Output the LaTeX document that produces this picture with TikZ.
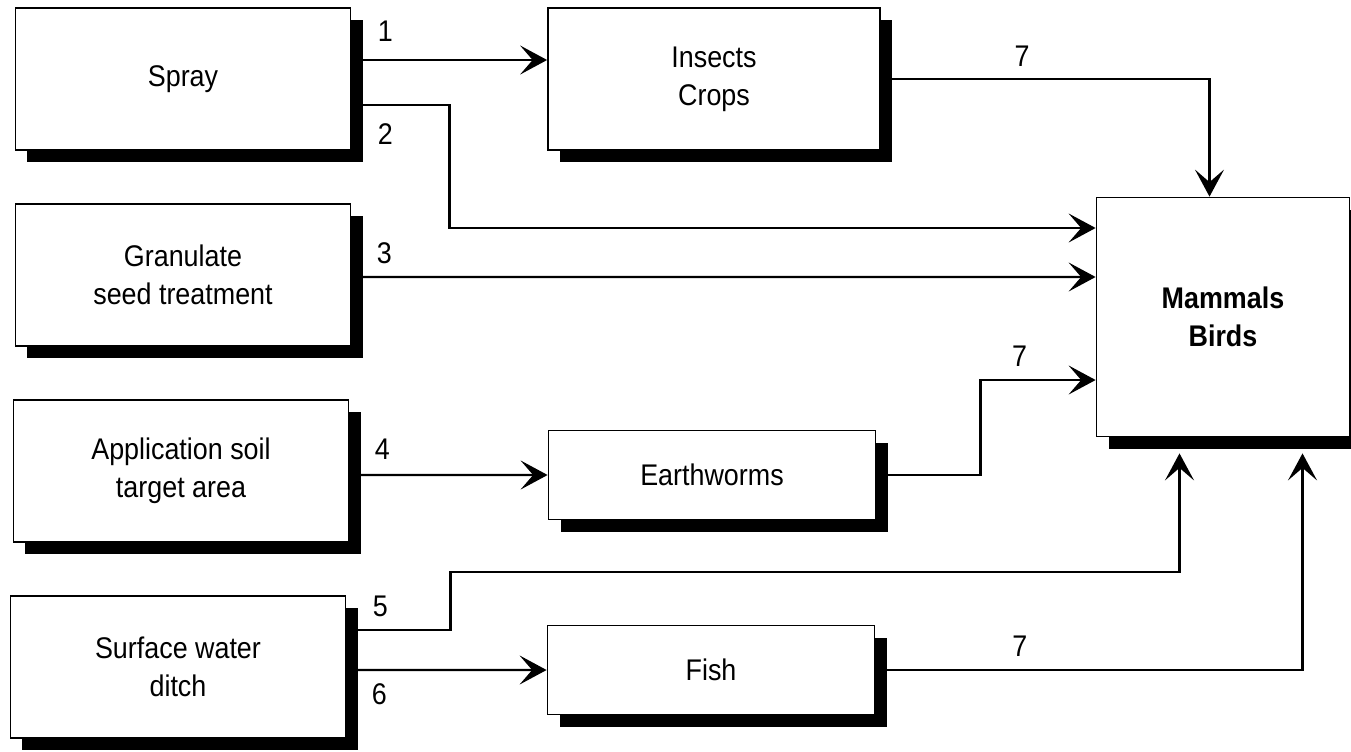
\documentclass[tikz,border=0pt]{standalone}
\usepackage{fontspec}
\setmainfont{Liberation Sans}[FakeStretch=0.9]
\usetikzlibrary{arrows.meta,shadows,positioning}

\tikzset{
  box/.style={draw=black, line width=1pt, fill=white, align=center,
    minimum width=67mm, minimum height=28.4mm,
    font=\fontsize{17}{21.6}\selectfont,
    drop shadow={shadow xshift=2.4mm, shadow yshift=-2.4mm, fill=black, opacity=1}},
  smallbox/.style={box, minimum width=65.4mm, minimum height=17.8mm},
  link/.style={-{Stealth[length=5.4mm,width=5.8mm,inset=2.5mm]}, line width=1.3pt},
  num/.style={font=\fontsize{17}{20}\selectfont, inner sep=2pt}
}

\begin{document}
\begin{tikzpicture}[x=0.2mm, y=-0.2mm]
    \useasboundingbox (0,0) rectangle (1351,751);
    \fill[white] (0,0) rectangle (1351,751);

    % sources
    \node (spray)       [box] at (183,79)  {Spray};
    \node (granulate)   [box] at (183,275) {Granulate\\seed treatment};
    \node (application) [box] at (181,471) {Application soil\\target area};
    \node (surface)     [box] at (178,667) {Surface water\\ditch};

    % intermediate
    \node (insects)    [box, minimum width=66.4mm] at (714,79) {Insects\\Crops};
    \node (earthworms) [smallbox] at (712,475) {Earthworms};
    \node (fish)       [smallbox] at (711,670) {Fish};

    % target
    \node (mammals) [box, minimum width=50.6mm, minimum height=47.8mm,
                     font=\fontsize{17}{21.6}\selectfont\bfseries] at (1223,317) {Mammals\\Birds};

    \draw [link] ([yshift=3.8mm]spray.east)
        -- node (l1) [num, pos=0, above, xshift=6.8mm, yshift=2.7mm] {1} ([yshift=3.8mm]insects.west);
    \draw [link] ([yshift=-5.2mm]spray.east)
        -- node (l2) [num, pos=0, below, xshift=6.8mm, yshift=-2.7mm] {2} ++(98,0)
        |- ([yshift=17.8mm]mammals.west);
    \draw [link] ([yshift=-0.4mm]granulate.east)
        -- node (l3) [num, pos=0, above, xshift=6.6mm, yshift=1.7mm] {3} ([yshift=8mm]mammals.west);
    \draw [link] ([yshift=-0.8mm]application.east)
        -- node (l4) [num, pos=0, above, xshift=6.6mm, yshift=2.1mm] {4} (earthworms.west);
    \draw [link] ([yshift=7.4mm]surface.east)
        -- node (l5) [num, pos=0, above, xshift=6.8mm, yshift=1.7mm] {5} ++(104,0)
        -- ++(0,-58) -| ([xshift=-8.7mm,yshift=-3.2mm]mammals.south);
    \draw [link] ([yshift=-0.6mm]surface.east)
        -- node (l6) [num, pos=0, below, xshift=6.6mm, yshift=-1.7mm] {6} (fish.west);

    \draw [link] (insects.east)
        -| node (l7a) [num, pos=0.215, above, yshift=1.5mm] {7} ([xshift=-2.7mm]mammals.north);
    \draw [link] (earthworms.east) -- ++(104,0)
        |- node (l7b) [num, pos=0.67, above, yshift=1.7mm] {7} ([yshift=-12.6mm]mammals.west);
    \draw [link] (fish.east)
        -| node (l7c) [num, pos=0.169, above, yshift=1.7mm] {7} ([xshift=15.9mm,yshift=-3.2mm]mammals.south);

  \end{tikzpicture}
\end{document}
